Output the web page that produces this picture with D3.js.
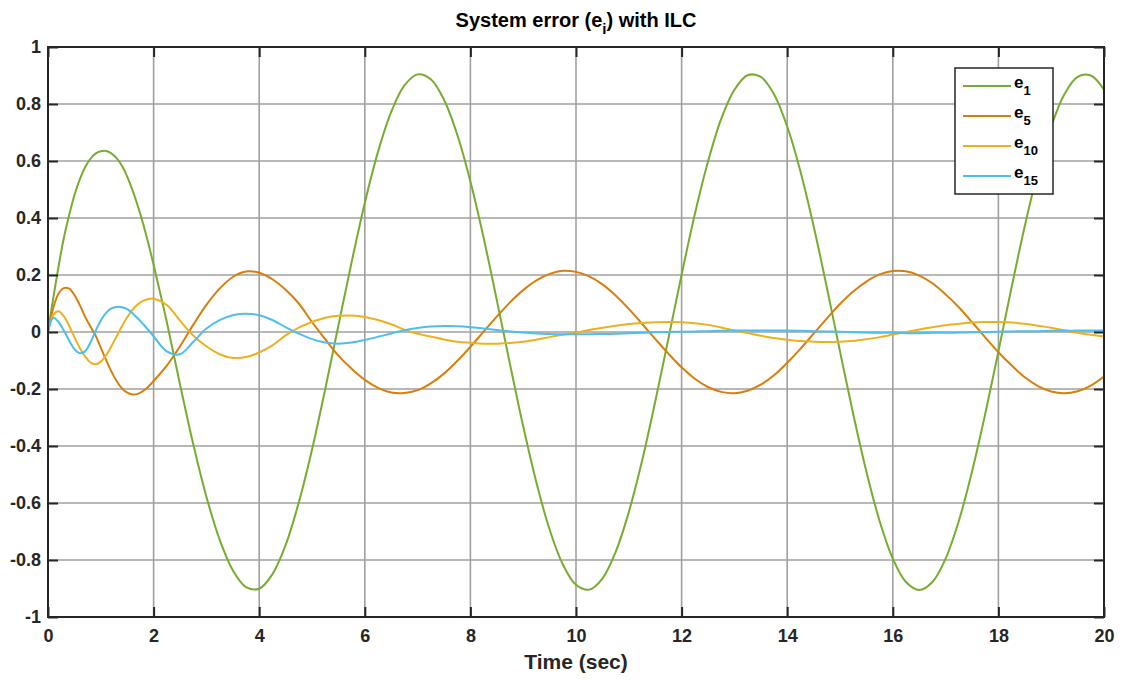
<!DOCTYPE html>
<html>
<head>
<meta charset="utf-8">
<script src="https://cdn.jsdelivr.net/npm/d3@7"></script>
<style>
  html, body { margin: 0; padding: 0; background: #fff; }
  svg { display: block; font-family: "Liberation Sans", Arial, Helvetica, sans-serif; }
</style>
</head>
<body>
<svg id="chart" width="1121" height="680"></svg>
<script>
// ---------------- data ----------------
const time = [
  0, 0.1, 0.2, 0.3, 0.4, 0.5, 0.6, 0.7, 0.8, 0.9, 1.0, 1.1, 1.2, 1.3, 1.4, 1.5, 1.6, 1.7, 1.8, 1.9, 2.0,
  2.25, 2.5, 2.75, 3.0, 3.25, 3.5, 3.75, 4.0,
  4.25, 4.5, 4.75, 5.0, 5.25, 5.5, 5.75, 6.0,
  6.25, 6.5, 6.75, 7.0, 7.25, 7.5, 7.75, 8.0,
  8.25, 8.5, 8.75, 9.0, 9.25, 9.5, 9.75, 10.0,
  10.25, 10.5, 10.75, 11.0, 11.25, 11.5, 11.75, 12.0,
  12.25, 12.5, 12.75, 13.0, 13.25, 13.5, 13.75, 14.0,
  14.25, 14.5, 14.75, 15.0, 15.25, 15.5, 15.75, 16.0,
  16.25, 16.5, 16.75, 17.0, 17.25, 17.5, 17.75, 18.0,
  18.25, 18.5, 18.75, 19.0, 19.25, 19.5, 19.75, 20.0
];
const e1 = [
  0, 0.12, 0.23, 0.33, 0.41, 0.48, 0.535, 0.577, 0.607, 0.626, 0.634, 0.635, 0.627, 0.61, 0.583, 0.545, 0.498, 0.443, 0.381, 0.311, 0.236,
  0.035, -0.184, -0.393, -0.578, -0.728, -0.836, -0.895, -0.901,
  -0.850, -0.748, -0.598, -0.413, -0.201, 0.023, 0.245, 0.453,
  0.632, 0.772, 0.865, 0.904, 0.887, 0.815, 0.693, 0.528,
  0.331, 0.112, -0.113, -0.331, -0.528, -0.693, -0.815, -0.887,
  -0.904, -0.865, -0.772, -0.632, -0.453, -0.245, -0.023, 0.201,
  0.413, 0.598, 0.748, 0.850, 0.901, 0.895, 0.834, 0.721,
  0.564, 0.372, 0.157, -0.068, -0.288, -0.490, -0.663, -0.795,
  -0.877, -0.905, -0.877, -0.795, -0.663, -0.490, -0.288, -0.068,
  0.157, 0.372, 0.564, 0.721, 0.834, 0.895, 0.900, 0.850
];
const e5 = [
  0, 0.085, 0.135, 0.154, 0.152, 0.13, 0.095, 0.055, 0.02, -0.012, -0.055, -0.098, -0.138, -0.172, -0.198, -0.213, -0.219, -0.217, -0.207, -0.192, -0.172,
  -0.118, -0.05, 0.025, 0.095, 0.152, 0.193, 0.212, 0.208,
  0.185, 0.148, 0.10, 0.035, -0.025, -0.083, -0.129, -0.168,
  -0.196, -0.212, -0.214, -0.204, -0.180, -0.146, -0.102, -0.052,
  0.001, 0.054, 0.104, 0.147, 0.181, 0.204, 0.215, 0.211,
  0.195, 0.167, 0.128, 0.081, 0.029, -0.024, -0.076, -0.124,
  -0.164, -0.193, -0.210, -0.215, -0.206, -0.185, -0.152, -0.108,
  -0.059, -0.006, 0.047, 0.098, 0.142, 0.177, 0.202, 0.214,
  0.213, 0.198, 0.171, 0.132, 0.087, 0.035, -0.019, -0.071,
  -0.117, -0.159, -0.190, -0.209, -0.215, -0.208, -0.188, -0.156
];
const e10 = [
  0, 0.06, 0.073, 0.055, 0.022, -0.018, -0.055, -0.085, -0.106, -0.113, -0.104, -0.082, -0.05, -0.015, 0.02, 0.052, 0.078, 0.097, 0.109, 0.116, 0.117,
  0.095, 0.04, -0.012, -0.05, -0.078, -0.091, -0.088, -0.072,
  -0.047, -0.012, 0.015, 0.035, 0.05, 0.057, 0.058, 0.053,
  0.042, 0.027, 0.008, -0.006, -0.016, -0.026, -0.034, -0.038,
  -0.041, -0.041, -0.039, -0.034, -0.027, -0.018, -0.01, -0.003,
  0.007, 0.015, 0.022, 0.028, 0.032, 0.034, 0.035, 0.034,
  0.031, 0.025, 0.016, 0.005, -0.004, -0.013, -0.021, -0.027,
  -0.032, -0.034, -0.035, -0.034, -0.031, -0.025, -0.018, -0.009,
  0.0, 0.009, 0.017, 0.024, 0.029, 0.033, 0.035, 0.035,
  0.033, 0.029, 0.022, 0.015, 0.006, -0.003, -0.010, -0.016
];
const e15 = [
  0, 0.05, 0.035, 0.005, -0.03, -0.06, -0.074, -0.068, -0.038, 0.003, 0.04, 0.067, 0.083, 0.088, 0.087, 0.080, 0.066, 0.048, 0.028, 0.007, -0.015,
  -0.068, -0.078, -0.035, 0.012, 0.042, 0.059, 0.064, 0.059,
  0.042, 0.017, -0.006, -0.025, -0.037, -0.041, -0.037, -0.028,
  -0.017, -0.005, 0.006, 0.014, 0.019, 0.021, 0.020, 0.017,
  0.012, 0.007, 0.002, -0.002, -0.005, -0.007, -0.008, -0.008,
  -0.008, -0.007, -0.006, -0.004, -0.003, -0.001, 0.0, 0.001,
  0.002, 0.003, 0.004, 0.005, 0.005, 0.005, 0.005, 0.005,
  0.004, 0.003, 0.002, 0.001, -0.001, -0.002, -0.003, -0.003,
  -0.004, -0.004, -0.003, -0.003, -0.002, -0.001, 0.0, 0.001,
  0.002, 0.003, 0.003, 0.004, 0.004, 0.005, 0.005, 0.005
];
const seriesNames = ["1", "5", "10", "15"];
const seriesColors = ["#77AC30", "#D97E0B", "#EDB120", "#4DBEEE"];
const xTicks = [0, 2, 4, 6, 8, 10, 12, 14, 16, 18, 20];
const yTicks = [-1, -0.8, -0.6, -0.4, -0.2, 0, 0.2, 0.4, 0.6, 0.8, 1];
const yTickLabels = ["-1", "-0.8", "-0.6", "-0.4", "-0.2", "0", "0.2", "0.4", "0.6", "0.8", "1"];

// ---------------- layout ----------------
const svg = d3.select("#chart");
const L = 48, R = 1104, T = 47, B = 617;
const x = d3.scaleLinear().domain([0, 20]).range([L, R]);
const y = d3.scaleLinear().domain([-1, 1]).range([B, T]);
const axisColor = "#262626";
const gridColor = "#a0a0a0";
const FONT = '"Liberation Sans", Arial, Helvetica, sans-serif';

// grid
const grid = svg.append("g");
grid.selectAll(".gx").data(xTicks.slice(1, -1)).join("line")
  .attr("x1", d => x(d)).attr("x2", d => x(d)).attr("y1", T).attr("y2", B)
  .attr("stroke", gridColor).attr("stroke-width", 1.6);
grid.selectAll(".gy").data(yTicks.slice(1, -1)).join("line")
  .attr("y1", d => y(d)).attr("y2", d => y(d)).attr("x1", L).attr("x2", R)
  .attr("stroke", gridColor).attr("stroke-width", 1.6);

// clip
svg.append("defs").append("clipPath").attr("id", "clip")
  .append("rect").attr("x", L).attr("y", T).attr("width", R - L).attr("height", B - T);

// lines
const series = [e1, e5, e10, e15];
const line = d3.line()
  .x((d, i) => x(time[i]))
  .y(d => y(d))
  .curve(d3.curveCatmullRom.alpha(0.5));
const lines = svg.append("g").attr("clip-path", "url(#clip)");
series.forEach((s, k) => {
  lines.append("path").datum(s).attr("d", line)
    .attr("fill", "none").attr("stroke", seriesColors[k]).attr("stroke-width", 2)
    .attr("stroke-linejoin", "round");
});

// axes with inward ticks on all sides
const tickLen = 10;
const axB = d3.axisBottom(x).tickValues(xTicks).tickSizeInner(-tickLen).tickSizeOuter(0).tickPadding(12).tickFormat(d3.format("d"));
const axT = d3.axisTop(x).tickValues(xTicks).tickSizeInner(-tickLen).tickSizeOuter(0).tickFormat("");
const axLft = d3.axisLeft(y).tickValues(yTicks).tickSizeInner(-tickLen).tickSizeOuter(0).tickPadding(7)
  .tickFormat((d, i) => yTickLabels[i]);
const axRgt = d3.axisRight(y).tickValues(yTicks).tickSizeInner(-tickLen).tickSizeOuter(0).tickFormat("");

function styleAxis(g) {
  g.select(".domain").remove();
  g.selectAll(".tick line").attr("stroke", axisColor).attr("stroke-width", 2);
  g.selectAll(".tick text").attr("fill", axisColor)
    .style("font-size", "18px").style("font-weight", "bold")
    .style("font-family", FONT);
}
svg.append("g").attr("transform", `translate(0,${B})`).call(axB).call(styleAxis);
svg.append("g").attr("transform", `translate(0,${T})`).call(axT).call(styleAxis);
svg.append("g").attr("transform", `translate(${L},0)`).call(axLft).call(styleAxis);
svg.append("g").attr("transform", `translate(${R},0)`).call(axRgt).call(styleAxis);

// box
svg.append("rect").attr("x", L).attr("y", T).attr("width", R - L).attr("height", B - T)
  .attr("fill", "none").attr("stroke", axisColor).attr("stroke-width", 2);

// title
const title = svg.append("text").attr("x", (L + R) / 2).attr("y", 27)
  .attr("text-anchor", "middle").attr("fill", "#000")
  .style("font-size", "20px").style("font-weight", "bold");
title.append("tspan").text("System error (e");
title.append("tspan").attr("dy", 7).style("font-size", "15px").text("i");
title.append("tspan").attr("dy", -7).text(") with ILC");

// x label
svg.append("text").attr("x", (L + R) / 2).attr("y", 669)
  .attr("text-anchor", "middle").attr("fill", axisColor)
  .style("font-size", "21px").style("font-weight", "bold").text("Time (sec)");

// legend
const lg = svg.append("g");
lg.append("rect").attr("x", 955).attr("y", 68).attr("width", 98).attr("height", 126)
  .attr("fill", "#fff").attr("stroke", axisColor).attr("stroke-width", 1.5);
const rowY = d3.scalePoint().domain(seriesNames).range([86, 176]);
seriesNames.forEach((n, k) => {
  const yy = rowY(n);
  lg.append("line").attr("x1", 963).attr("x2", 1011).attr("y1", yy).attr("y2", yy)
    .attr("stroke", seriesColors[k]).attr("stroke-width", 2);
  const t = lg.append("text").attr("x", 1014).attr("y", yy + 2).attr("fill", "#000")
    .style("font-size", "17px").style("font-weight", "bold");
  t.append("tspan").text("e");
  t.append("tspan").attr("dy", 7).style("font-size", "13px").text(n);
});
</script>
</body>
</html>
